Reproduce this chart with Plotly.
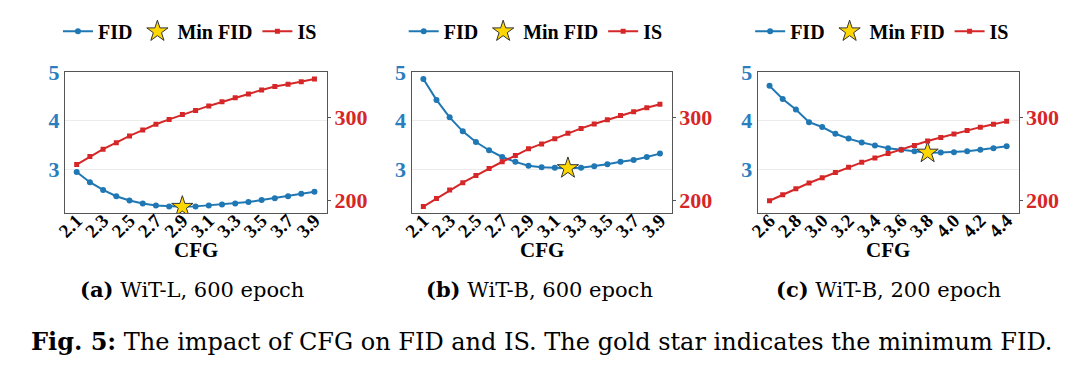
import plotly.graph_objects as go

# ---------------- data ----------------
cfg_a = [2.1, 2.2, 2.3, 2.4, 2.5, 2.6, 2.7, 2.8, 2.9, 3.0, 3.1, 3.2, 3.3, 3.4, 3.5, 3.6, 3.7, 3.8, 3.9]
fid_a = [2.94, 2.73, 2.57, 2.44, 2.35, 2.29, 2.25, 2.23, 2.22, 2.23, 2.25, 2.27, 2.29, 2.32, 2.36, 2.40, 2.44, 2.49, 2.53]
is_a = [243, 252.7, 261.7, 269.5, 277.7, 284.8, 291.8, 297.7, 303.5, 308.6, 314, 319.1, 323.8, 328.5, 333.2, 337.5, 340.2, 343.4, 346.5]

cfg_b = [2.1, 2.2, 2.3, 2.4, 2.5, 2.6, 2.7, 2.8, 2.9, 3.0, 3.1, 3.2, 3.3, 3.4, 3.5, 3.6, 3.7, 3.8, 3.9]
fid_b = [4.86, 4.43, 4.07, 3.78, 3.56, 3.39, 3.25, 3.15, 3.07, 3.04, 3.03, 3.02, 3.03, 3.06, 3.10, 3.15, 3.19, 3.25, 3.32]
is_b = [192.1, 201.9, 212.1, 221.1, 229.7, 238.2, 246.4, 253.9, 262.1, 268, 274.2, 280.9, 286.8, 292.1, 297.3, 302.3, 307, 311.7, 316]

cfg_c = [2.6, 2.7, 2.8, 2.9, 3.0, 3.1, 3.2, 3.3, 3.4, 3.5, 3.6, 3.7, 3.8, 3.9, 4.0, 4.1, 4.2, 4.3, 4.4]
fid_c = [4.72, 4.45, 4.23, 3.97, 3.87, 3.73, 3.63, 3.55, 3.49, 3.43, 3.40, 3.37, 3.34, 3.345, 3.35, 3.37, 3.40, 3.43, 3.47]
is_c = [199.2, 206.6, 213.6, 220.7, 227, 233.5, 239.9, 245.7, 251.1, 256.3, 261, 266, 271.5, 275.7, 280, 284.4, 288.3, 291.8, 295.3]

ticks_ab = [2.1, 2.3, 2.5, 2.7, 2.9, 3.1, 3.3, 3.5, 3.7, 3.9]
ticks_c = [2.6, 2.8, 3.0, 3.2, 3.4, 3.6, 3.8, 4.0, 4.2, 4.4]

subcaptions = ["<b>(a)</b> WiT-L, 600 epoch", "<b>(b)</b> WiT-B, 600 epoch", "<b>(c)</b> WiT-B, 200 epoch"]
fig_caption = "<b>Fig. 5:</b> The impact of CFG on FID and IS. The gold star indicates the minimum FID."

# ---------------- style ----------------
W, H = 1072, 375
BLUE = "#1f77b4"
BLUE_TXT = "#2a7dbf"
RED = "#d62728"
GOLD = "#FFD700"
FRAME = "#555555"
SERIF = "Liberation Serif"
CAP = "DejaVu Serif"

panels = [
    dict(cfg=cfg_a, fid=fid_a, is_=is_a, ticks=ticks_ab, xpx=(55.3, 320.0), xr=[2.01, 3.995]),
    dict(cfg=cfg_b, fid=fid_b, is_=is_b, ticks=ticks_ab, xpx=(405.3, 668.0), xr=[2.01, 3.99]),
    dict(cfg=cfg_c, fid=fid_c, is_=is_c, ticks=ticks_c, xpx=(754.7, 1018.0), xr=[2.51, 4.49]),
]
ytop_px, ybot_px = 62.3, 207.7
ydom = [1 - ybot_px / H, 1 - ytop_px / H]

fig = go.Figure()
layout = dict(
    width=W, height=H,
    margin=dict(l=0, r=0, t=0, b=0),
    paper_bgcolor="white", plot_bgcolor="white",
    showlegend=True,
    annotations=[],
)

for i, p in enumerate(panels):
    n = i + 1
    xname = "x" if n == 1 else f"x{n}"
    yl = 2 * i + 1
    yr = 2 * i + 2
    ylname = "y" if yl == 1 else f"y{yl}"
    yrname = f"y{yr}"
    legname = "legend" if n == 1 else f"legend{n}"

    fig.add_trace(go.Scatter(
        x=p["cfg"], y=p["fid"], mode="lines+markers", name="FID",
        line=dict(color=BLUE, width=2), marker=dict(color=BLUE, size=6, symbol="circle"),
        xaxis=xname, yaxis=ylname, legend=legname,
    ))
    k = p["fid"].index(min(p["fid"]))
    fig.add_trace(go.Scatter(
        x=[p["cfg"][k]], y=[p["fid"][k]], mode="markers", name="Min FID",
        marker=dict(color=GOLD, size=16, symbol="star", line=dict(color="#333333", width=1)),
        xaxis=xname, yaxis=ylname, legend=legname,
    ))
    fig.add_trace(go.Scatter(
        x=p["cfg"], y=p["is_"], mode="lines+markers", name="IS",
        line=dict(color=RED, width=2), marker=dict(color=RED, size=5, symbol="square"),
        xaxis=xname, yaxis=yrname, legend=legname,
    ))

    x0, x1 = p["xpx"]
    xdom = [x0 / W, x1 / W]
    layout[("xaxis" if n == 1 else f"xaxis{n}")] = dict(
        domain=xdom, anchor=ylname, range=p["xr"],
        tickvals=p["ticks"], ticktext=[f"{t:.1f}" for t in p["ticks"]],
        tickangle=-45, tickfont=dict(family=SERIF, size=19, color="black", weight="bold"),
        ticklabelstandoff=-12,
        showline=True, linecolor=FRAME, linewidth=1, mirror=True,
        showgrid=False, zeroline=False, ticks="", ticklen=0,
    )
    layout[("yaxis" if yl == 1 else f"yaxis{yl}")] = dict(
        domain=ydom, anchor=xname, range=[2.092, 5.0],
        tickvals=[3, 4, 5], ticktext=["3", "4", "5"],
        tickfont=dict(family=SERIF, size=22, color=BLUE_TXT, weight="bold"),
        showline=True, linecolor=FRAME, linewidth=1, mirror=True,
        showgrid=True, gridcolor="#ececec", gridwidth=1, zeroline=False, ticks="",
    )
    layout[f"yaxis{yr}"] = dict(
        domain=ydom, anchor=xname, overlaying=ylname, side="right", range=[184.3, 354.7],
        tickvals=[200, 300], ticktext=["200", "300"],
        tickfont=dict(family=SERIF, size=22, color=RED, weight="bold"),
        ticklabelstandoff=-1,
        showline=True, linecolor=FRAME, linewidth=1,
        showgrid=False, zeroline=False, ticks="outside", ticklen=3, tickcolor=FRAME,
    )
    layout[legname] = dict(
        orientation="h", x=(x0 + x1) / 2 / W - 6 / W, xanchor="center", y=1 - 20 / H, yanchor="middle",
        font=dict(family=SERIF, size=20, color="black", weight="bold"),
        bgcolor="rgba(0,0,0,0)", traceorder="normal", itemwidth=30,
    )
    layout["annotations"].append(dict(
        text="<b>CFG</b>", xref="paper", yref="paper", x=(x0 + x1) / 2 / W, y=1 - 246 / H,
        xanchor="center", yanchor="middle", showarrow=False,
        font=dict(family=SERIF, size=21, color="black"),
    ))

sub_x = [184, 534, 887]
for sx, txt in zip(sub_x, subcaptions):
    layout["annotations"].append(dict(
        text=txt, xref="paper", yref="paper", x=sx / W, y=1 - 287 / H,
        xanchor="center", yanchor="middle", showarrow=False,
        font=dict(family=CAP, size=21, color="black"),
    ))
layout["annotations"].append(dict(
    text=fig_caption, xref="paper", yref="paper", x=536 / W, y=1 - 340 / H,
    xanchor="center", yanchor="middle", showarrow=False,
    font=dict(family=CAP, size=24, color="black"),
))

fig.update_layout(**layout)
fig.write_html("out.html")
